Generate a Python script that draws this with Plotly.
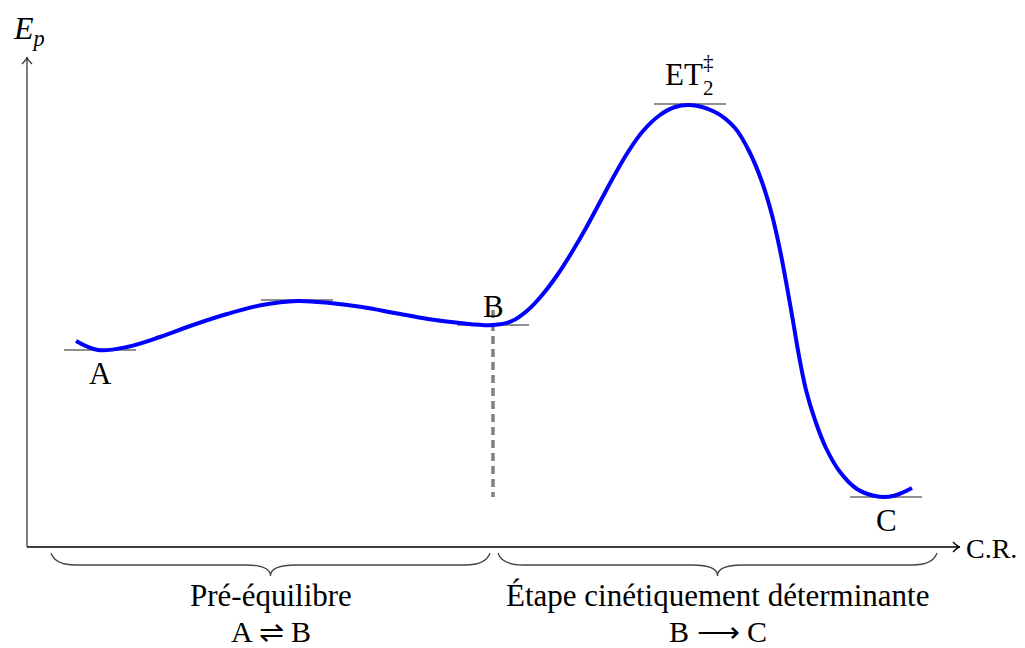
import plotly.graph_objects as go

# Blue potential-energy curve (reaction coordinate, Ep)
cr = [0.49, 0.71, 1.00, 1.33, 1.66, 2.00, 2.35, 2.70, 3.03, 3.35, 3.68, 4.01, 4.33, 4.66,
      4.85, 5.01, 5.16, 5.31, 5.45, 5.59, 5.73, 5.87, 6.01, 6.16, 6.33, 6.48, 6.63,
      6.88, 7.08, 7.23, 7.35, 7.45, 7.53, 7.60, 7.66, 7.72, 7.79, 7.88, 7.99, 8.13,
      8.30, 8.48, 8.66, 8.85]
ep = [2.06, 1.97, 2.00, 2.10, 2.22, 2.33, 2.42, 2.46, 2.44, 2.40, 2.34, 2.28, 2.24, 2.22,
      2.26, 2.37, 2.53, 2.73, 2.95, 3.19, 3.45, 3.71, 3.95, 4.16, 4.32, 4.40, 4.42,
      4.35, 4.19, 3.94, 3.65, 3.32, 2.97, 2.60, 2.26, 1.91, 1.57, 1.27, 0.99, 0.75,
      0.58, 0.51, 0.51, 0.59]

# Stationary points (short level lines)
level_names = ["A", "", "B", "ET", "C"]
level_cr = [0.73, 2.70, 4.66, 6.63, 8.59]
level_ep = [1.97, 2.47, 2.22, 4.43, 0.50]

# Phases (braces under the axis)
phase_titles = ["Pré-équilibre", "Étape cinétiquement déterminante"]
phase_eqs = ["A \u21cc B", "B \u27f6 C"]
phase_start = [0.24, 4.71]
phase_end = [4.63, 9.10]

x_tip, y_tip = 9.33, 4.90
FONT = "Liberation Serif"
FS = 31

fig = go.Figure()
fig.add_trace(go.Scatter(x=cr, y=ep, mode="lines",
                         line=dict(color="#0000ff", width=4, shape="spline", smoothing=1.0),
                         hoverinfo="skip"))

shapes = []
annotations = []

# axes with open arrow heads
shapes.append(dict(type="line", xref="x", yref="y", x0=0, x1=0, y0=0, y1=y_tip,
                   line=dict(color="#555555", width=1.5), layer="below"))
shapes.append(dict(type="line", xref="x", yref="y", x0=0, x1=x_tip, y0=0, y1=0,
                   line=dict(color="black", width=1.3), layer="below"))
ah_l, ah_w = 0.07, 0.05
shapes.append(dict(type="path", xref="x", yref="y",
                   path=f"M{-ah_w},{y_tip-ah_l} Q0,{y_tip-0.02} 0,{y_tip} Q0,{y_tip-0.02} {ah_w},{y_tip-ah_l}",
                   line=dict(color="#333333", width=1.3)))
shapes.append(dict(type="path", xref="x", yref="y",
                   path=f"M{x_tip-ah_l},{ah_w} Q{x_tip-0.02},0 {x_tip},0 Q{x_tip-0.02},0 {x_tip-ah_l},{-ah_w}",
                   line=dict(color="black", width=1.3)))

hw = 0.36
for n, x, e in zip(level_names, level_cr, level_ep):
    shapes.append(dict(type="line", xref="x", yref="y", x0=x - hw, x1=x + hw, y0=e, y1=e,
                       line=dict(color="#222222", width=1.2), layer="below"))

# dashed separator at B
iB = level_names.index("B")
iC = level_names.index("C")
shapes.append(dict(type="line", xref="x", yref="y", x0=level_cr[iB], x1=level_cr[iB],
                   y0=level_ep[iB] + 0.15, y1=level_ep[iC],
                   line=dict(color="#808080", width=3.5, dash="8px,5px"), layer="below"))

# braces
y_top, y_flat, y_cusp, r = -0.06, -0.18, -0.29, 0.25
for x0, x1, t, eq in zip(phase_start, phase_end, phase_titles, phase_eqs):
    m = (x0 + x1) / 2
    path = (f"M{x0},{y_top} Q{x0+0.04},{y_flat} {x0+r},{y_flat} L{m-r},{y_flat} "
            f"Q{m},{y_flat} {m},{y_cusp} Q{m},{y_flat} {m+r},{y_flat} L{x1-r},{y_flat} "
            f"Q{x1-0.04},{y_flat} {x1},{y_top}")
    shapes.append(dict(type="path", xref="x", yref="y", path=path,
                       line=dict(color="#444444", width=1.3)))
    annotations.append(dict(x=m, y=-0.48, xref="x", yref="y", text=t, showarrow=False,
                            font=dict(family=FONT, size=FS, color="black")))
    annotations.append(dict(x=m, y=-0.845, xref="x", yref="y", text=eq, showarrow=False,
                            borderpad=0, font=dict(family=FONT, size=30, color="black")))

# level labels
annotations.append(dict(x=level_cr[0], y=level_ep[0] - 0.23, text="A", showarrow=False,
                        font=dict(family=FONT, size=FS, color="black")))
annotations.append(dict(x=level_cr[iB], y=level_ep[iB] + 0.19, text="B", showarrow=False,
                        font=dict(family=FONT, size=FS, color="black")))
annotations.append(dict(x=level_cr[iC], y=level_ep[iC] - 0.23, text="C", showarrow=False,
                        font=dict(family=FONT, size=FS, color="black")))
iT = level_names.index("ET")
annotations.append(dict(x=level_cr[iT] - 0.06, y=level_ep[iT] + 0.30, text="ET", showarrow=False,
                        font=dict(family=FONT, size=FS, color="black")))
annotations.append(dict(x=level_cr[iT] + 0.18, y=level_ep[iT] + 0.42, text="\u2021", showarrow=False,
                        font=dict(family=FONT, size=21, color="black")))
annotations.append(dict(x=level_cr[iT] + 0.18, y=level_ep[iT] + 0.16, text="2", showarrow=False,
                        font=dict(family=FONT, size=21, color="black")))

# axis titles
annotations.append(dict(x=9.38, y=-0.01, xanchor="left", text="C.R.", showarrow=False,
                        borderpad=0, font=dict(family=FONT, size=28, color="black")))
annotations.append(dict(x=0.02, y=5.17, text="<i>E</i><sub><i>p</i></sub>", showarrow=False,
                        font=dict(family=FONT, size=32, color="black")))

# The page body has an 8px margin: size the figure to fit inside the window
fig.update_layout(
    width=1017, height=640, margin=dict(l=0, r=0, t=0, b=0),
    paper_bgcolor="white", plot_bgcolor="white", showlegend=False,
    xaxis=dict(range=[-0.19, 9.98], visible=False, fixedrange=True),
    yaxis=dict(range=[-1.01, 5.39], visible=False, fixedrange=True),
    shapes=shapes, annotations=annotations,
)
fig.write_html("out.html")
